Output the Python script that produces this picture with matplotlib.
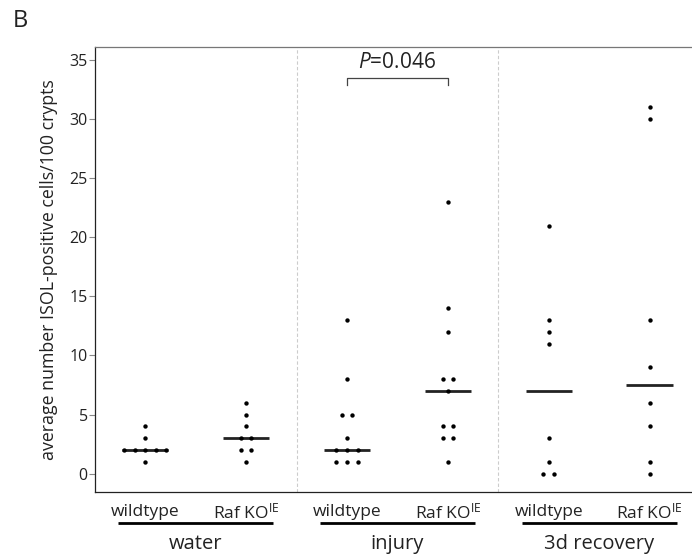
import matplotlib
matplotlib.use('agg')
import matplotlib.pyplot as plt
import matplotlib.transforms as mtransforms
from collections import Counter

plt.rcParams['font.family'] = ['Open Sans', 'DejaVu Sans']
plt.rcParams['mathtext.fontset'] = 'custom'
plt.rcParams['mathtext.rm'] = 'Open Sans'
plt.rcParams['mathtext.it'] = 'Open Sans:italic'

# data
groups = ['water', 'injury', '3d recovery']
genotypes = ['wildtype', r'Raf KO$^{\mathrm{IE}}$']
water_wt = [1, 2, 2, 2, 2, 2, 3, 4]
water_ko = [1, 2, 2, 3, 3, 4, 5, 6]
injury_wt = [1, 1, 1, 2, 2, 2, 3, 5, 5, 8, 13]
injury_ko = [1, 3, 3, 4, 4, 7, 8, 8, 12, 14, 23]
recovery_wt = [0, 0, 1, 3, 11, 12, 13, 21]
recovery_ko = [0, 1, 4, 6, 9, 13, 30, 31]
medians = [2, 3, 2, 7, 7, 7.5]
p_label = r'$P$=0.046'
yticks = [0, 5, 10, 15, 20, 25, 30, 35]

series = [water_wt, water_ko, injury_wt, injury_ko, recovery_wt, recovery_ko]

fig = plt.figure(figsize=(6.92, 5.54), dpi=100)
ax = fig.add_axes([0.137, 0.112, 0.863, 0.803])

step = 0.105
for i, vals in enumerate(series):
    counts = Counter(vals)
    xs, ys = [], []
    for v, n in counts.items():
        for k in range(n):
            xs.append(i + (k - (n - 1) / 2) * step)
            ys.append(v)
    ax.scatter(xs, ys, s=10, color='black', zorder=3, linewidths=0)
    ax.plot([i - 0.23, i + 0.23], [medians[i], medians[i]], color='#222222',
            linewidth=2.0, solid_capstyle='butt', zorder=2)

# group separators
for xsep in [1.5, 3.5]:
    ax.axvline(xsep, color='#cccccc', linestyle=(0, (3, 2)), linewidth=0.8, zorder=1)

# significance bracket
ax.plot([2, 2, 3, 3], [32.9, 33.5, 33.5, 32.9], color='#444444', linewidth=0.9)
ax.text(2.5, 33.9, p_label, ha='center', va='bottom', fontsize=15, color='#222222')

ax.set_xlim(-0.5, 5.42)
ax.set_ylim(-1.55, 36.1)
ax.set_yticks(yticks)
ax.set_xticks([])
ax.tick_params(axis='y', length=4, width=0.8, color='#888888', labelsize=11.5,
               labelcolor='#222222', pad=1)
ax.spines['right'].set_visible(False)
ax.spines['top'].set_color('#777777')
ax.spines['left'].set_color('#222222')
ax.spines['bottom'].set_color('#222222')
for s in ['top', 'left', 'bottom']:
    ax.spines[s].set_linewidth(0.9)

ax.set_ylabel('average number ISOL-positive cells/100 crypts', fontsize=12.8,
              color='#222222', labelpad=8)

trans = mtransforms.blended_transform_factory(ax.transData, ax.transAxes)
for g, name in enumerate(groups):
    c = 2 * g + 0.5
    for j, gt in enumerate(genotypes):
        ax.text(2 * g + j, -0.045, gt, transform=trans, ha='center', va='center',
                fontsize=12.5, color='#222222')
    ax.plot([c - 0.77, c + 0.77], [-0.07, -0.07], transform=trans, color='black',
            linewidth=2.0, clip_on=False, solid_capstyle='butt')
    ax.text(c, -0.117, name, transform=trans, ha='center', va='center',
            fontsize=14.5, color='#222222')

fig.text(0.018, 0.962, 'B', fontsize=17, color='#222222', ha='left', va='center')

fig.savefig('out.png', dpi=100)
